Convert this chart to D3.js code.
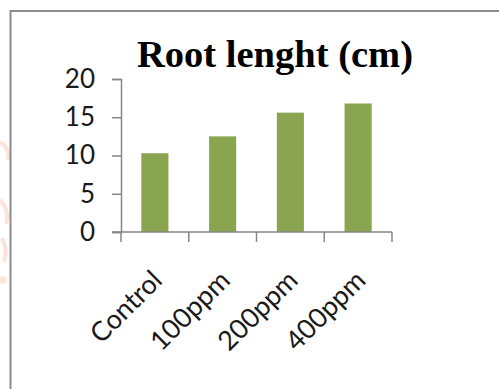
<!DOCTYPE html>
<html>
<head>
<meta charset="utf-8">
<script src="https://cdn.jsdelivr.net/npm/d3@7"></script>
<style>
  body { margin: 0; background: #fff; }
  .tickText { font-family: Lato, "Open Sans", sans-serif; font-size: 26px; fill: #1a1a1a; }
  .catText { font-family: Lato, "Open Sans", sans-serif; font-size: 27px; fill: #1a1a1a; }
  .title { font-family: "Liberation Serif", "Times New Roman", serif; font-weight: bold; font-size: 37px; fill: #000; }
</style>
</head>
<body>
<svg id="chart"></svg>
<script>
var categories = ["Control", "100ppm", "200ppm", "400ppm"];
var rootLength = [10.3, 12.5, 15.6, 16.8];
var yTicks = [0, 5, 10, 15, 20];

var svg = d3.select("#chart")
    .attr("width", 499)
    .attr("height", 389);

// faint pink smudge left of the frame
var smudge = svg.append("g").attr("fill", "none").attr("stroke", "#fbe2da").attr("stroke-width", 4);
smudge.append("path").attr("d", "M0,142 C6,146 10,152 8,160");
smudge.append("path").attr("d", "M0,200 C5,205 9,214 6,224");
smudge.append("path").attr("d", "M2,238 C6,246 7,254 4,262");
svg.append("circle").attr("cx", 3).attr("cy", 280).attr("r", 4).attr("fill", "#fce6df");

// chart frame
svg.append("rect")
    .attr("x", 10.5)
    .attr("y", 11)
    .attr("width", 500)
    .attr("height", 400)
    .attr("fill", "none")
    .attr("stroke", "#8c8c8c")
    .attr("stroke-width", 2);

var x0 = 121, x1 = 392;
var xScale = d3.scaleBand().domain(categories).range([x0, x1]).padding(0);
var xBar = d3.scaleBand().domain(categories).range([x0, x1]).paddingInner(0.6).paddingOuter(0.3);
var yScale = d3.scaleLinear().domain([0, 20]).range([232, 79]);

svg.append("text")
    .attr("class", "title")
    .attr("x", 137)
    .attr("y", 67)
    .attr("textLength", 276)
    .attr("lengthAdjust", "spacingAndGlyphs")
    .text("Root lenght (cm)");

// y axis
var yAxis = d3.axisLeft(yScale)
    .tickValues(yTicks)
    .tickSize(9)
    .tickPadding(17);

var gy = svg.append("g")
    .attr("transform", "translate(" + x0 + ",0)")
    .call(yAxis);
gy.select(".domain").attr("stroke", "#868686").attr("stroke-width", 1.5);
gy.selectAll(".tick line").attr("stroke", "#868686").attr("stroke-width", 1.5);
gy.selectAll(".tick text").attr("class", "tickText").attr("font-size", null).attr("font-family", null);

// bars
svg.selectAll(".bar")
    .data(categories)
    .enter().append("rect")
    .attr("class", "bar")
    .attr("x", function (d) { return xBar(d); })
    .attr("width", xBar.bandwidth())
    .attr("y", function (d, i) { return yScale(rootLength[i]); })
    .attr("height", function (d, i) { return yScale(0) - yScale(rootLength[i]); })
    .attr("fill", "#8aa54f");

// x axis
svg.append("line")
    .attr("x1", x0 - 9).attr("x2", x1)
    .attr("y1", yScale(0)).attr("y2", yScale(0))
    .attr("stroke", "#868686").attr("stroke-width", 1.5);

var bounds = categories.map(function (d) { return xScale(d); }).concat([x1]);
svg.selectAll(".xtick")
    .data(bounds)
    .enter().append("line")
    .attr("class", "xtick")
    .attr("x1", function (d) { return d; }).attr("x2", function (d) { return d; })
    .attr("y1", yScale(0)).attr("y2", yScale(0) + 10)
    .attr("stroke", "#868686").attr("stroke-width", 1.5);

svg.selectAll(".xlabel")
    .data(categories)
    .enter().append("text")
    .attr("class", "catText")
    .attr("text-anchor", "end")
    .attr("transform", function (d) {
        var cx = xScale(d) + xScale.bandwidth() / 2 + 9;
        return "translate(" + cx + "," + (yScale(0) + 50) + ") rotate(-45)";
    })
    .text(function (d) { return d; });
</script>
</body>
</html>
